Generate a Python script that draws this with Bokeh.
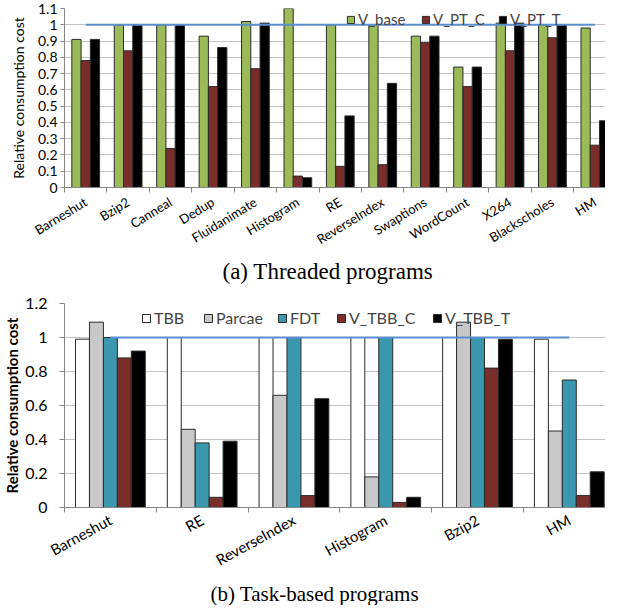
from bokeh.plotting import figure
from bokeh.models import Range1d, FixedTicker, Legend, LegendItem, Title
from bokeh.layouts import column
from bokeh.embed import file_html
from bokeh.resources import INLINE

# ---------------- data: (a) threaded programs ----------------
threaded_programs = ["Barneshut", "Bzip2", "Canneal", "Dedup", "Fluidanimate", "Histogram", "RE",
                     "ReverseIndex", "Swaptions", "WordCount", "X264", "Blackscholes", "HM"]
v_base = [0.91, 1.00, 1.00, 0.93, 1.02, 1.20, 1.00, 1.00, 0.93, 0.74, 1.01, 1.00, 0.98]
v_pt_c = [0.78, 0.84, 0.24, 0.62, 0.73, 0.07, 0.13, 0.14, 0.89, 0.62, 0.84, 0.92, 0.26]
v_pt_t = [0.91, 1.00, 1.00, 0.86, 1.01, 0.06, 0.44, 0.64, 0.93, 0.74, 1.01, 1.00, 0.41]
threaded_series = ["V_base", "V_PT_C", "V_PT_T"]
threaded_yticks = [0, 0.1, 0.2, 0.3, 0.4, 0.5, 0.6, 0.7, 0.8, 0.9, 1, 1.1]
threaded_ytick_labels = ["0", "0.1", "0.2", "0.3", "0.4", "0.5", "0.6", "0.7", "0.8", "0.9", "1", "1.1"]

# ---------------- data: (b) task-based programs ----------------
task_programs = ["Barneshut", "RE", "ReverseIndex", "Histogram", "Bzip2", "HM"]
tbb = [0.99, 1.00, 1.00, 1.00, 1.00, 0.99]
parcae = [1.09, 0.46, 0.66, 0.18, 1.09, 0.45]
fdt = [1.00, 0.38, 1.00, 1.00, 1.00, 0.75]
v_tbb_c = [0.88, 0.06, 0.07, 0.03, 0.82, 0.07]
v_tbb_t = [0.92, 0.39, 0.64, 0.06, 0.99, 0.21]
task_series = ["TBB", "Parcae", "FDT", "V_TBB_C", "V_TBB_T"]
task_yticks = [0, 0.2, 0.4, 0.6, 0.8, 1, 1.2]
task_ytick_labels = ["0", "0.2", "0.4", "0.6", "0.8", "1", "1.2"]

reference_level = [1.0, 1.0]

SANS = "Lato"
SERIF = "Liberation Serif"
AXIS_GRAY = "#868686"
GRID_GRAY = "#C4C4C4"
BAR_EDGE = "#2b2b2b"
REF_BLUE = "#5B8ED0"


def make_chart(categories, values, names, colors, yticks, ytick_labels, ymax,
               cat_px, frame_w, frame_h, fig_h, left, top,
               tick_font, cat_font, label_font, label_bold, bar_w, cat_angle,
               cat_standoff, ylab_standoff, ytick_standoff, ytick_out,
               legend_xs, legend_y, legend_font, legend_glyph,
               caption, cap_offset, cap_standoff, cap_size):
    n = len(categories)
    centers = [i + 0.5 for i in range(n)]
    bounds = list(range(n + 1))
    p = figure(width=left + frame_w, height=fig_h, output_backend="svg", toolbar_location=None,
               x_range=Range1d(0, frame_w / cat_px), y_range=Range1d(0, ymax),
               min_border_left=left, min_border_right=0, min_border_top=top,
               min_border_bottom=fig_h - top - frame_h)
    p.outline_line_color = None
    p.background_fill_color = "white"
    p.border_fill_color = "white"

    renderers = []
    k = len(values)
    for j, (vals, col) in enumerate(zip(values, colors)):
        off = (j - (k - 1) / 2) * bar_w
        r = p.vbar(x=[c + off for c in centers], top=vals, width=bar_w, bottom=0,
                   fill_color=col, line_color=BAR_EDGE, line_width=1)
        renderers.append(r)
    p.line([centers[0], centers[-1]], reference_level, line_color=REF_BLUE, line_width=2)

    # x axis
    xa = p.xaxis[0]
    xa.ticker = FixedTicker(ticks=centers, minor_ticks=bounds)
    xa.major_label_overrides = {c: name for c, name in zip(centers, categories)}
    xa.major_label_orientation = cat_angle
    xa.major_label_text_font = SANS
    xa.major_label_text_font_size = cat_font
    xa.major_label_text_color = "black"
    xa.major_label_standoff = cat_standoff
    xa.major_tick_out = 0
    xa.major_tick_in = 0
    xa.minor_tick_out = 5
    xa.minor_tick_in = 0
    xa.minor_tick_line_color = AXIS_GRAY
    xa.axis_line_color = AXIS_GRAY

    # y axis
    ya = p.yaxis[0]
    ya.ticker = FixedTicker(ticks=yticks, minor_ticks=[])
    ya.major_label_overrides = {t: s for t, s in zip(yticks, ytick_labels)}
    ya.major_label_text_font = SANS
    ya.major_label_text_font_size = tick_font
    ya.major_label_text_color = "black"
    ya.major_label_standoff = ytick_standoff
    ya.major_tick_out = ytick_out
    ya.major_tick_in = 0
    ya.major_tick_line_color = AXIS_GRAY
    ya.axis_line_color = AXIS_GRAY
    ya.axis_label = "Relative consumption cost"
    ya.axis_label_text_font = SANS
    ya.axis_label_text_font_size = label_font
    ya.axis_label_text_font_style = "bold" if label_bold else "normal"
    ya.axis_label_text_color = "black"
    ya.axis_label_standoff = ylab_standoff

    p.xgrid.visible = False
    p.ygrid.grid_line_color = GRID_GRAY
    p.ygrid.grid_line_width = 1.2

    for nm, r, lx in zip(names, renderers, legend_xs):
        legend = Legend(items=[LegendItem(label=nm, renderers=[r])],
                        orientation="horizontal", location=(lx, legend_y),
                        glyph_width=legend_glyph, glyph_height=legend_glyph,
                        label_text_font=SANS, label_text_font_size=legend_font,
                        label_standoff=3, label_height=14, spacing=0,
                        padding=0, margin=0, border_line_alpha=0, background_fill_alpha=0)
        p.add_layout(legend, "center")

    p.add_layout(Title(text=caption, align="left", offset=cap_offset, standoff=cap_standoff,
                       text_font=SERIF, text_font_size=cap_size, text_font_style="normal",
                       text_line_height=0.9, text_color="black"), "below")
    return p


p1 = make_chart(threaded_programs, [v_base, v_pt_c, v_pt_t], threaded_series,
                ["#9BBB59", "#7A2E2C", "#000000"], threaded_yticks, threaded_ytick_labels, 1.1,
                cat_px=43.37, frame_w=553, frame_h=179, fig_h=291, left=52, top=8,
                tick_font="14px", cat_font="13px", label_font="14px", label_bold=False,
                bar_w=0.218, cat_angle=0.55,
                cat_standoff=8, ylab_standoff=8, ytick_standoff=3, ytick_out=4,
                legend_xs=[282, 357, 434], legend_y=159, legend_font="15px", legend_glyph=9,
                caption="(a)  Threaded programs", cap_offset=158, cap_standoff=0, cap_size="23px")

p2 = make_chart(task_programs, [tbb, parcae, fdt, v_tbb_c, v_tbb_t], task_series,
                ["#FFFFFF", "#C8C8C8", "#3B97AE", "#7A2E2C", "#000000"], task_yticks, task_ytick_labels, 1.2,
                cat_px=92.8, frame_w=547, frame_h=206, fig_h=314, left=58, top=12,
                tick_font="16px", cat_font="15px", label_font="15px", label_bold=True,
                bar_w=0.152, cat_angle=0.5,
                cat_standoff=6, ylab_standoff=1, ytick_standoff=12, ytick_out=5,
                legend_xs=[77, 139, 213, 272, 368], legend_y=180, legend_font="16px", legend_glyph=10,
                caption="(b)  Task-based programs", cap_offset=146, cap_standoff=0, cap_size="21px")

layout = column(p1, p2)
open("out.html", "w").write(file_html(layout, INLINE))
